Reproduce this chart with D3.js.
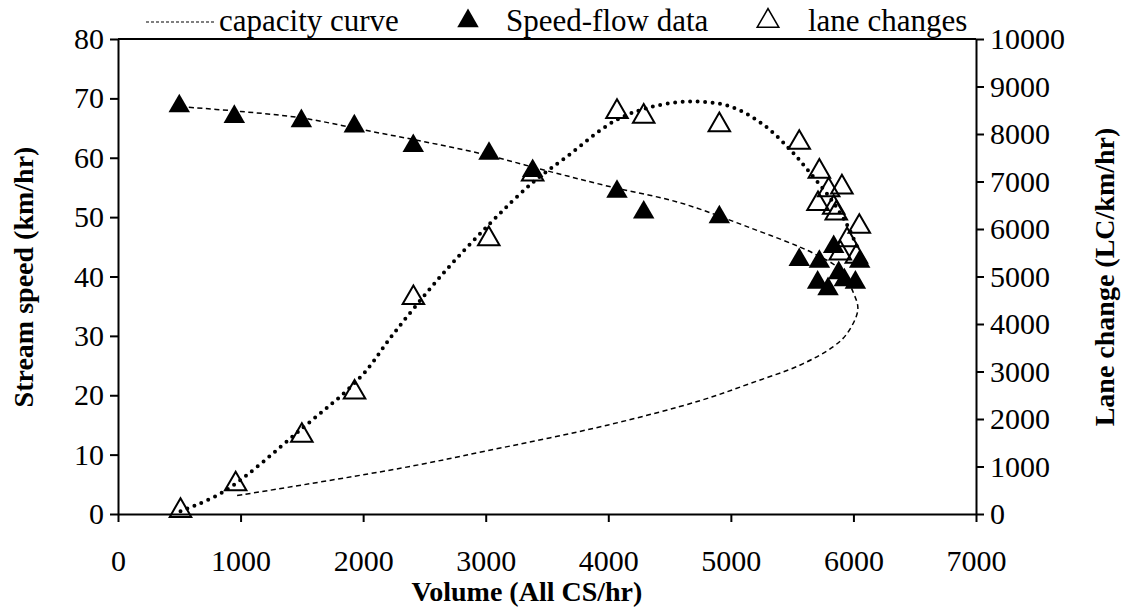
<!DOCTYPE html>
<html lang="en">
<head>
    <meta charset="UTF-8">
    <script src="https://d3js.org/d3.v7.min.js"></script>
    <title>Speed-flow and lane changes</title>
    <style>
        body { margin: 0; background: #fff; }
        svg text { font-family: 'Liberation Serif', 'Times New Roman', serif; fill: black; }
        .tick text { font-size: 30px; }
        .tick line, .domain { stroke: black; stroke-width: 2; }
        text.title { font-weight: bold; font-size: 28px; }
        text.legend { font-size: 31px; }
    </style>
</head>
<body>
<svg height="610" width="1129"></svg>
<script>
    // speed-flow observations (volume, stream speed)
    const flowVol = [500, 949, 1496, 1928, 2409, 3027, 3383, 4071, 4289, 4906,
                     5558, 5722, 5839, 6051, 5880, 5708, 5793, 6016, 5926];
    const flowSpeed = [68.7, 66.9, 66.2, 65.3, 62.0, 60.7, 57.8, 54.3, 50.8, 50.0,
                       42.8, 42.5, 45.0, 42.5, 40.6, 39.0, 37.9, 39.0, 39.4];

    // lane change observations (volume, LC/km/hr)
    const laneVol = [510, 960, 1500, 1930, 2410, 3025, 3383, 4071, 4289, 4906, 5558,
                     5722, 5798, 5906, 5711, 5839, 5860, 6048, 5948, 5893, 6024];
    const laneLC = [70, 630, 1650, 2560, 4550, 5790, 7150, 8470, 8370, 8190, 7820,
                    7210, 6820, 6880, 6530, 6450, 6330, 6050, 5770, 5490, 5420];

    // capacity curve (upper branch then back along the lower branch)
    const capVol = [510, 1000, 1500, 2000, 2500, 3000, 3500, 4000, 4588, 5132, 5675, 5893,
                    6001, 6036, 5948, 5836, 5567, 5159, 4751, 4000, 3000, 2303, 971];
    const capSpeed = [68.6, 67.8, 66.7, 64.7, 62.7, 60.5, 57.8, 55.2, 52.4, 48.4, 43.9, 41.1,
                      37.2, 34.4, 30.4, 28.2, 25.1, 22.0, 19.1, 15.0, 10.6, 7.7, 3.1];

    // lane change trend (dotted)
    const trendVol = [510, 862, 1487, 1977, 2249, 2630, 3037, 3378, 3663, 4043, 4316,
                      4669, 4996, 5267, 5485, 5648, 5811, 5948, 6029];
    const trendLC = [60, 470, 1769, 2879, 3800, 4998, 6122, 6965, 7525, 8262, 8545,
                     8684, 8578, 8193, 7666, 7175, 6649, 6087, 5630];

    const xTicks = d3.range(0, 7001, 1000);
    const yTicks = d3.range(0, 81, 10);
    const y2Ticks = d3.range(0, 10001, 1000);

    const svg = d3.select("svg");
    const x = d3.scaleLinear().domain([0, 7000]).range([118, 976]);
    const y = d3.scaleLinear().domain([0, 80]).range([514, 39]);
    const y2 = d3.scaleLinear().domain([0, 10000]).range([514, 39]);
    const serif = "'Liberation Serif', 'Times New Roman', serif";

    // frame top
    svg.append("line")
        .attr("x1", x(0)).attr("x2", x(7000))
        .attr("y1", y(80)).attr("y2", y(80))
        .attr("stroke", "black").attr("stroke-width", 2);

    svg.append("g").attr("transform", `translate(0,${y(0)})`)
        .call(d3.axisBottom(x).tickValues(xTicks).tickSize(8).tickSizeOuter(0).tickPadding(28)
            .tickFormat(d3.format("d")))
        .attr("font-family", serif);
    svg.append("g").attr("transform", `translate(${x(0)},0)`)
        .call(d3.axisLeft(y).tickValues(yTicks).tickSize(8).tickSizeOuter(0).tickPadding(6))
        .attr("font-family", serif);
    svg.append("g").attr("transform", `translate(${x(7000)},0)`)
        .call(d3.axisRight(y2).tickValues(y2Ticks).tickSize(8).tickSizeOuter(0).tickPadding(6)
            .tickFormat(d3.format("d")))
        .attr("font-family", serif);

    // curves
    const capLine = d3.line().curve(d3.curveCatmullRom.alpha(0.5))
        .x(i => x(capVol[i])).y(i => y(capSpeed[i]));
    svg.append("path").attr("d", capLine(d3.range(capVol.length)))
        .attr("fill", "none").attr("stroke", "black")
        .attr("stroke-width", 1.5).attr("stroke-dasharray", "5 3.5");

    const trendLine = d3.line().curve(d3.curveCatmullRom.alpha(0.5))
        .x(i => x(trendVol[i])).y(i => y2(trendLC[i]));
    svg.append("path").attr("d", trendLine(d3.range(trendVol.length)))
        .attr("fill", "none").attr("stroke", "black")
        .attr("stroke-width", 4).attr("stroke-linecap", "round")
        .attr("stroke-dasharray", "0 7.5");

    const tri = d3.symbol().type(d3.symbolTriangle).size(200);

    svg.append("g").selectAll("path").data(d3.range(laneVol.length)).join("path")
        .attr("d", tri)
        .attr("transform", i => `translate(${x(laneVol[i])},${y2(laneLC[i])})`)
        .attr("fill", "none").attr("stroke", "black").attr("stroke-width", 2);

    svg.append("g").selectAll("path").data(d3.range(flowVol.length)).join("path")
        .attr("d", tri)
        .attr("transform", i => `translate(${x(flowVol[i])},${y(flowSpeed[i])})`)
        .attr("fill", "black");

    // legend
    const lg = svg.append("g");
    lg.append("line").attr("x1", 146).attr("x2", 215).attr("y1", 22).attr("y2", 22)
        .attr("stroke", "black").attr("stroke-width", 1.2).attr("stroke-dasharray", "3 2");
    lg.append("text").attr("class", "legend").attr("x", 219).attr("y", 31).text("capacity curve");
    lg.append("path").attr("d", tri).attr("transform", "translate(468,21)").attr("fill", "black");
    lg.append("text").attr("class", "legend").attr("x", 506).attr("y", 31).text("Speed-flow data");
    lg.append("path").attr("d", tri).attr("transform", "translate(768,21)")
        .attr("fill", "none").attr("stroke", "black").attr("stroke-width", 1.6);
    lg.append("text").attr("class", "legend").attr("x", 808).attr("y", 31).text("lane changes");

    // axis titles
    svg.append("text").attr("class", "title").attr("text-anchor", "middle")
        .attr("x", 527).attr("y", 601).text("Volume (All CS/hr)");
    svg.append("text").attr("class", "title").attr("text-anchor", "middle")
        .attr("transform", "translate(33,277) rotate(-90)").text("Stream speed (km/hr)");
    svg.append("text").attr("class", "title").attr("text-anchor", "middle")
        .attr("transform", "translate(1114,277) rotate(-90)").text("Lane change (LC/km/hr)");
</script>
</body>
</html>
